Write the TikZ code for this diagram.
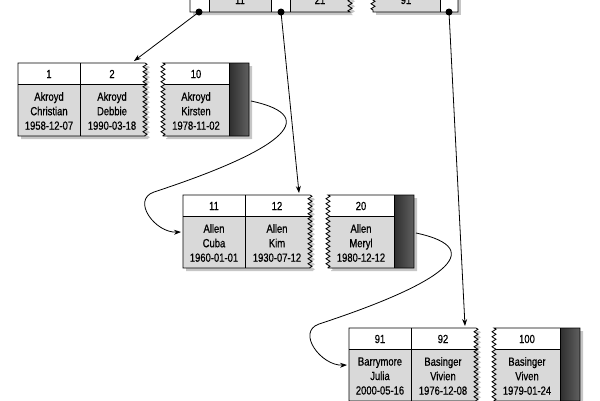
\documentclass[tikz,border=0pt]{standalone}
\usepackage{fontspec}
\setmainfont{Liberation Sans}[FakeStretch=0.8,FakeBold=0.6]
\usetikzlibrary{arrows.meta,decorations.pathmorphing,calc}
\tikzset{
 box/.style={draw=black,line width=0.8pt},
 txt/.style={font=\fontsize{11.8}{14.5}\selectfont, inner sep=0pt, align=center},
 datafill/.style={fill=gray!30},
 darkfill/.style={left color=black!82,right color=black!62},
 shadowfill/.style={fill=gray!45},
 zz/.style={decoration={zigzag,segment length=5pt,amplitude=2pt}},
 dot/.style={circle,fill=black,inner sep=0pt,minimum size=7pt},
 link/.style={line width=0.8pt,-{Stealth[length=7pt,width=5pt]}},
}
\newcommand\drawleaf[9]{%
\begin{scope}[shift={(#2,#3)}]
 \fill[shadowfill,zz] (3,3) -- (130,3) decorate{-- (130,76)} -- (3,76) -- cycle;
 \fill[shadowfill,zz] (234,3) -- (148,3) decorate{-- (148,76)} -- (234,76) -- cycle;
 \begin{scope}
  \clip[zz] (0,0) -- (127,0) decorate{-- (127,73)} -- (0,73) -- cycle;
  \fill[white] (0,0) rectangle (135,21);
  \fill[datafill] (0,21) rectangle (135,73);
  \draw[box] (0,21) -- (135,21) (62,0) -- (62,73);
 \end{scope}
 \draw[box,zz] (0,0) -- (127,0) decorate{-- (127,73)} -- (0,73) -- cycle;
 \begin{scope}
  \clip[zz] (231,0) -- (145,0) decorate{-- (145,73)} -- (231,73) -- cycle;
  \fill[white] (138,0) rectangle (211,21);
  \fill[datafill] (138,21) rectangle (211,73);
  \fill[darkfill] (211,0) rectangle (231,73);
  \draw[box] (138,21) -- (211,21) (211,0) -- (211,73);
 \end{scope}
 \draw[box,zz] (231,0) -- (145,0) decorate{-- (145,73)} -- (231,73) -- cycle;
 \node[txt] (#1k1) at (31,11) {#4};
 \node[txt] (#1k2) at (94,11) {#5};
 \node[txt] (#1k3) at (178,11) {#6};
 \node[txt] (#1d1) at (31,48) {#7};
 \node[txt] (#1d2) at (94,48) {#8};
 \node[txt] (#1d3) at (178,48) {#9};
 \coordinate (#1west) at (-2,37);
 \coordinate (#1east) at (233,38);
 \coordinate (#1top) at (116,-2);
\end{scope}}
\begin{document}
\begin{tikzpicture}[x=1pt,y=-1pt]
\useasboundingbox (0,0) rectangle (600,400);
\clip (0,0) rectangle (600,400);
% top node
\fill[shadowfill,zz] (193,-10) -- (353,-10) decorate{-- (353,15)} -- (193,15) -- cycle;
\fill[shadowfill] (376,-10) rectangle (461,15);
\begin{scope}
 \clip[zz] (190,-20) -- (350,-20) decorate{-- (350,12)} -- (190,12) -- cycle;
 \fill[white] (190,-20) rectangle (360,12);
 \fill[datafill] (209,-20) rectangle (271,12);
 \fill[datafill] (290,-20) rectangle (360,12);
 \draw[box] (209,-20) -- (209,12) (271,-20) -- (271,12) (290,-20) -- (290,12);
\end{scope}
\draw[box,zz] (190,-20) -- (190,12) -- (350,12) decorate{-- (350,-20)};
\begin{scope}
 \clip[zz] (458,-20) -- (373,-20) decorate{-- (373,12)} -- (458,12) -- cycle;
 \fill[white] (365,-20) rectangle (458,12);
 \fill[datafill] (365,-20) rectangle (440,12);
 \draw[box] (440,-20) -- (440,12);
\end{scope}
\draw[box,zz] (373,-20) decorate{-- (373,12)} -- (458,12) -- (458,-20);
\node[txt,anchor=base] (tk1) at (240,4) {11};
\node[txt,anchor=base] (tk2) at (320,4) {21};
\node[txt,anchor=base] (tk3) at (406,4) {91};
\node[dot] (tp1) at (199,12) {};
\node[dot] (tp2) at (281,12) {};
\node[dot] (tp3) at (449,12) {};
% leaves
\drawleaf{La}{18}{63}{1}{2}{10}{Akroyd\\Christian\\1958-12-07}{Akroyd\\Debbie\\1990-03-18}{Akroyd\\Kirsten\\1978-11-02}
\drawleaf{Lb}{183}{195}{11}{12}{20}{Allen\\Cuba\\1960-01-01}{Allen\\Kim\\1930-07-12}{Allen\\Meryl\\1980-12-12}
\drawleaf{Lc}{349}{328}{91}{92}{100}{Barrymore\\Julia\\2000-05-16}{Basinger\\Vivien\\1976-12-08}{Basinger\\Viven\\1979-01-24}
% connectors
\draw[link] (tp1.center) -- (Latop);
\draw[link] (tp2.center) -- (Lbtop);
\draw[link] (tp3.center) -- (Lctop);
\draw[link] (Laeast) .. controls +(75,16) and +(122,-40) .. ($(Laeast)+(-97,91)$) .. controls +(-23,8) and +(-26,1) .. (Lbwest);
\draw[link] (Lbeast) .. controls +(75,16) and +(122,-40) .. ($(Lbeast)+(-97,91)$) .. controls +(-23,8) and +(-26,1) .. (Lcwest);
\end{tikzpicture}
\end{document}
